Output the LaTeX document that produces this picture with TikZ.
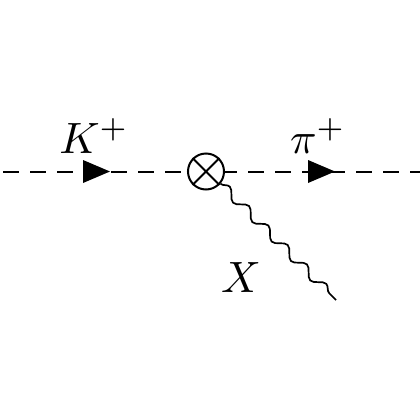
\documentclass[tikz,border=0pt]{standalone}
\usepackage{graphicx}
\usetikzlibrary{decorations.pathmorphing,decorations.markings}
\begin{document}
\begin{tikzpicture}[x=1bp,y=-1bp,
  lbl/.style={inner sep=0pt,anchor=base},
  scalar/.style={line width=2bp,dash pattern=on 16bp off 11bp},
  midarrow/.style={postaction={decorate},decoration={markings,
     mark=at position 110bp with {\fill[solid] (0,0) -- (-27bp,11.5bp) -- (-27bp,-11.5bp) -- cycle;}}},
  vertex/.style={draw,circle,line width=2bp,minimum size=36bp,inner sep=0pt},
  wave/.style={line width=1.7bp,decorate,decoration={snake,segment length=27.4bp,amplitude=4.5bp}}
]
\useasboundingbox (0,0) rectangle (420,420);
\node[vertex] (V) at (206,171.5) {};
\draw[line width=2bp] (V.north west) -- (V.south east) (V.north east) -- (V.south west);
\coordinate (L) at (0,171.5);
\coordinate (R) at (420,171.5);
\coordinate (W) at (336,300);
\draw[scalar,dash phase=24bp,midarrow] (L) -- (V.west);
\draw[scalar,dash phase=4bp,midarrow] (V.east) -- (R);
\draw[wave] (V.-40) -- (W);
\node[lbl] (K) at (94,153) {\scalebox{4.4}{$K^+$}};
\node[lbl] (P) at (318,153) {\scalebox{4.4}{$\pi^+$}};
\node[lbl] (X) at (241,292) {\scalebox{4.4}{$X$}};
\end{tikzpicture}
\end{document}
